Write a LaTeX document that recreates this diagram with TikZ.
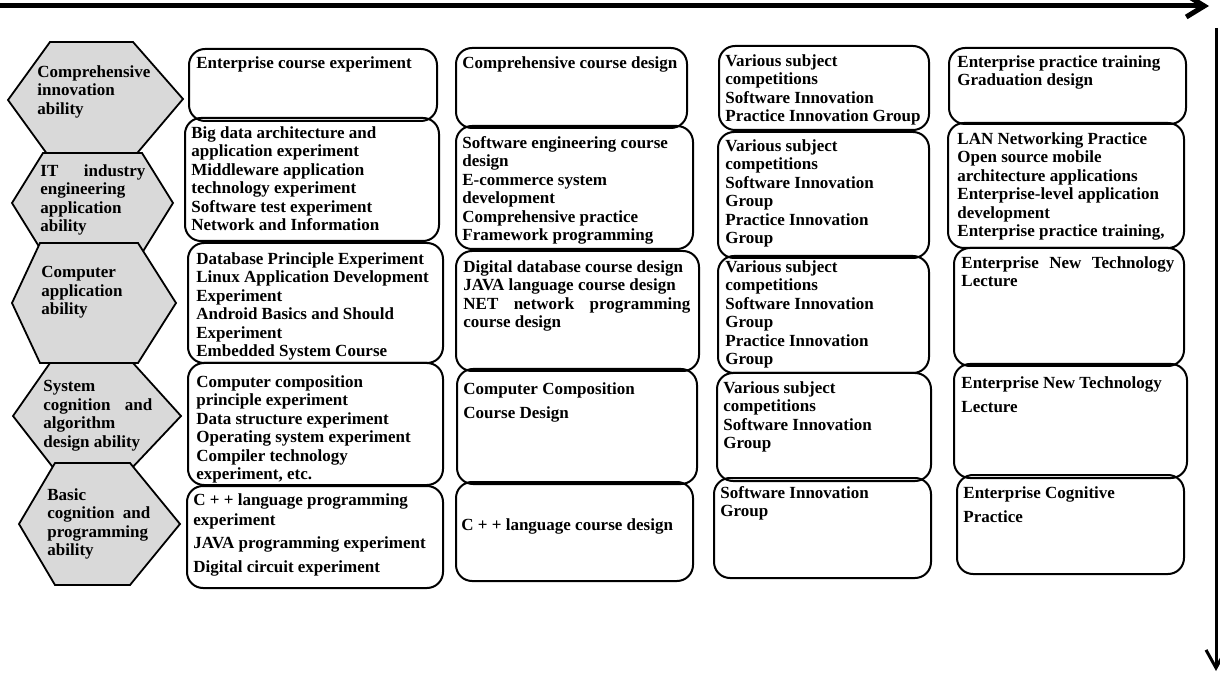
\documentclass[tikz,border=0pt]{standalone}
\usepackage{fontspec}
\setmainfont{Liberation Serif}
\usetikzlibrary{arrows.meta}
\definecolor{hexgray}{HTML}{D9D9D9}
\tikzset{
  cell/.style 2 args={draw,line width=1pt,rounded corners=8pt,anchor=north west,
    inner sep=0pt,minimum width=#1*0.5pt,minimum height=#2*0.5pt},
  txt/.style={anchor=north west,inner sep=0pt,align=left,
    font=\bfseries\fontsize{8.5pt}{9.25pt}\selectfont},
  loose/.style={font=\bfseries\fontsize{8.5pt}{12pt}\selectfont},
  hexa/.style={fill=hexgray,draw=black,line width=0.9pt}
}

\begin{document}
\begin{tikzpicture}[x=0.5pt,y=-0.5pt]
\useasboundingbox (0,0) rectangle (1220,673);

% arrows along the top and the right side
\coordinate (hstart) at (0,6);
\coordinate (hend) at (1209,6);
\coordinate (vstart) at (1216,28);
\coordinate (vend) at (1216,671);
\draw[line width=2.5pt,-{Straight Barb[length=9pt,width=11pt]}] (hstart) -- (hend);
\draw[line width=1.5pt,-{Straight Barb[length=9pt,width=10pt]}] (vstart) -- (vend);

% abilities
\filldraw[hexa] (8,100) -- (50,42) -- (133,42) -- (183,99) -- (133,158) -- (50,158) -- cycle;
\filldraw[hexa] (12,203) -- (43,153) -- (142,153) -- (173,203) -- (142,253) -- (43,253) -- cycle;
\filldraw[hexa] (12,303) -- (40,243) -- (138,243) -- (176,303) -- (138,363) -- (40,363) -- cycle;
\filldraw[hexa] (13,416) -- (50,363) -- (133,363) -- (181,416) -- (130,470) -- (55,470) -- cycle;
\filldraw[hexa] (19,524) -- (55,463) -- (130,463) -- (180,524) -- (130,585) -- (55,585) -- cycle;

\begin{scope}[every node/.style={txt}]
\node (H1) at (37,65) {Comprehensive\\innovation\\ability};
\node (H2) at (40,164) {\makebox[52.5pt][s]{IT industry}\\engineering\\application\\ability};
\node (H3) at (41,266) {Computer\\application\\ability};
\node (H4) at (43,380) {System\\\makebox[54.5pt][s]{cognition and}\\algorithm\\design ability};
\node (H5) at (47,488) {Basic\\\makebox[51.5pt][s]{cognition and}\\programming\\ability};
\end{scope}

% boxes
\node[cell={248}{72}] (a1) at (188,48) {};
\node[cell={254}{123}] (a2) at (184,117) {};
\node[cell={255}{120}] (a3) at (187,242) {};
\node[cell={255}{122}] (a4) at (187,362) {};
\node[cell={256}{102}] (a5) at (186,485) {};

\node[cell={231}{80}] (b1) at (455,47) {};
\node[cell={237}{123}] (b2) at (455,125) {};
\node[cell={243}{120}] (b3) at (455,250) {};
\node[cell={240}{115}] (b4) at (456,368) {};
\node[cell={237}{99}] (b5) at (455,481) {};

\node[cell={210}{84}] (c1) at (718,45) {};
\node[cell={211}{126}] (c2) at (717,131) {};
\node[cell={211}{117}] (c3) at (717,255) {};
\node[cell={214}{108}] (c4) at (716,372) {};
\node[cell={217}{100}] (c5) at (713,477) {};

\node[cell={237}{76}] (d1) at (948,47) {};
\node[cell={236}{125}] (d2) at (947,122) {};
\node[cell={230}{118}] (d3) at (953,247) {};
\node[cell={233}{114}] (d4) at (953,363) {};
\node[cell={227}{99}] (d5) at (956,474) {};

% box texts
\begin{scope}[every node/.style={txt}]
\node (a1t) at (196,56) {Enterprise course experiment};
\node (a2t) at (191,126) {Big data architecture and\\application experiment\\Middleware application\\technology experiment\\Software test experiment\\Network and Information};
\node (a3t) at (196,252) {Database Principle Experiment\\Linux Application Development\\Experiment\\Android Basics and Should\\Experiment\\Embedded System Course};
\node (a4t) at (196,375) {Computer composition\\principle experiment\\Data structure experiment\\Operating system experiment\\Compiler technology\\experiment, etc.};
\node (a5t) at (193,493) {C + + language programming\\[0.75pt]experiment\\[2.25pt]JAVA programming experiment\\[2.75pt]Digital circuit experiment};

\node (b1t) at (462,56) {Comprehensive course design};
\node (b2t) at (462,136) {Software engineering course\\design\\E-commerce system\\development\\Comprehensive practice\\Framework programming};
\node (b3t) at (463,260) {Digital database course design\\JAVA language course design\\\makebox[113.5pt][s]{NET network programming}\\course design};
\node[loose] (b4t) at (463,382) {Computer Composition\\Course Design};
\node (b5t) at (461,518) {C + + language course design};

\node (c1t) at (725,54) {Various subject\\competitions\\Software Innovation\\Practice Innovation Group};
\node (c2t) at (725,139) {Various subject\\competitions\\Software Innovation\\Group\\Practice Innovation\\Group};
\node (c3t) at (725,260) {Various subject\\competitions\\Software Innovation\\Group\\Practice Innovation\\Group};
\node (c4t) at (723,381) {Various subject\\competitions\\Software Innovation\\Group};
\node (c5t) at (720,486) {Software Innovation\\Group};

\node (d1t) at (957,55) {Enterprise practice training\\Graduation design};
\node (d2t) at (957,132) {LAN Networking Practice\\Open source mobile\\architecture applications\\Enterprise-level application\\development\\Enterprise practice training,};
\node (d3t) at (961,256) {\makebox[106.5pt][s]{Enterprise New Technology}\\Lecture};
\node[loose] (d4t) at (961,376) {Enterprise New Technology\\Lecture};
\node[loose] (d5t) at (963,486) {Enterprise Cognitive\\Practice};
\end{scope}
\end{tikzpicture}
\end{document}
